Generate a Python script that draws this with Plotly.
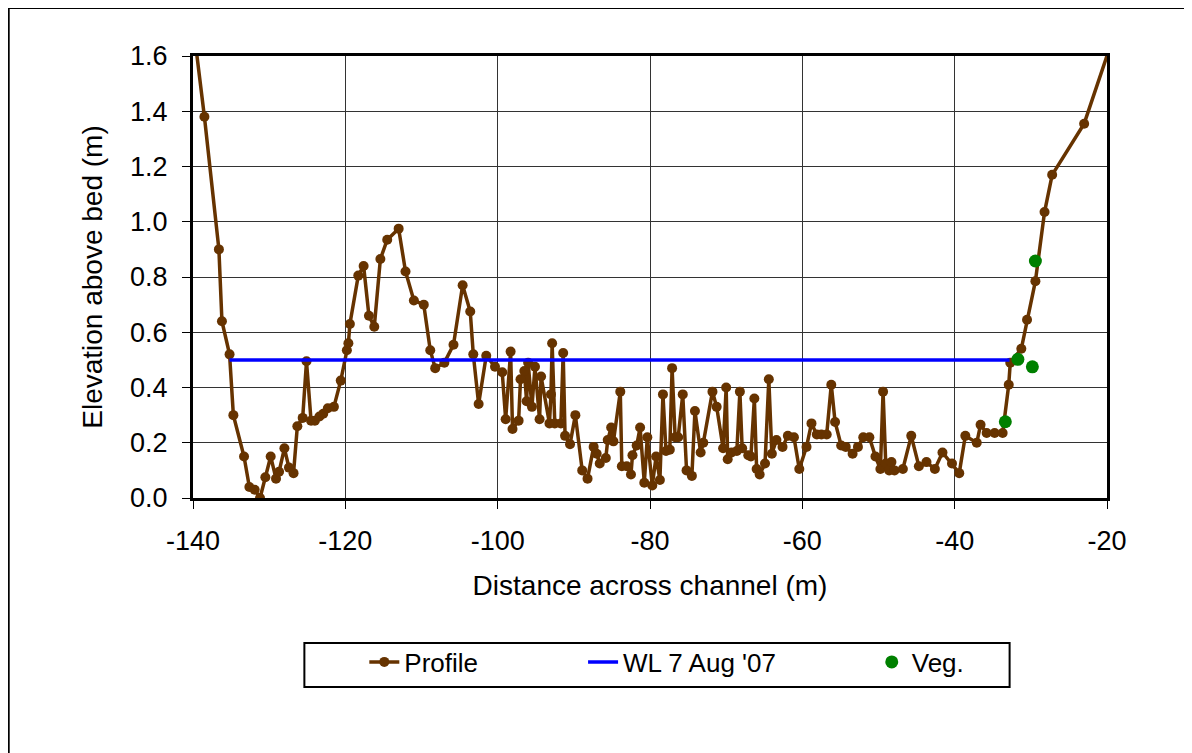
import plotly.graph_objects as go

# Profile survey points (distance across channel, elevation above bed)
profile_x = [-139.7, -138.5, -136.6, -136.2, -135.2, -134.7, -133.3, -132.6, -131.9, -131.2,
             -130.5, -129.8, -129.1, -128.7, -128.0, -127.4, -126.8, -126.3, -125.6, -125.1,
             -124.5, -124.0, -123.4, -122.9, -122.3, -121.5, -120.6, -119.8, -119.6, -119.4,
             -118.3, -117.6, -116.9, -116.2, -115.4, -114.5, -113.0, -112.1, -111.0, -109.7,
             -108.85, -108.2, -107.0, -105.8, -104.6, -103.6, -103.2, -102.5, -101.5, -100.35,
             -99.4, -98.95, -98.3, -98.05, -97.25, -97.0, -96.5, -96.2, -96.0, -95.5,
             -95.1, -94.5, -94.3, -93.2, -93.0, -92.85, -92.5, -91.7, -91.4, -91.15,
             -90.5, -89.8, -88.9, -88.2, -87.4, -87.0, -86.6, -85.8, -85.55, -85.1,
             -84.8, -83.9, -83.7, -83.05, -82.5, -82.3, -81.75, -81.3, -80.75, -80.35,
             -79.7, -79.2, -78.7, -78.3, -77.9, -77.4, -77.1, -76.7, -76.3, -75.7,
             -75.2, -74.5, -74.1, -73.35, -73.0, -71.8, -71.25, -70.4, -70.0, -69.8,
             -69.3, -68.6, -68.2, -67.9, -67.1, -66.75, -66.3, -66.0, -65.6, -64.9,
             -64.4, -64.0, -63.4, -62.6, -61.9, -61.1, -60.4, -59.45, -58.8, -58.1,
             -57.5, -56.8, -56.2, -55.7, -54.9, -54.3, -53.4, -52.7, -52.0, -51.2,
             -50.4, -49.75, -49.4, -49.05, -48.6, -48.3, -47.9, -46.8, -45.7, -44.7,
             -43.7, -42.6, -41.6, -40.35, -39.4, -38.6, -37.1, -36.6, -35.8, -34.75,
             -33.7, -32.9, -32.7, -31.25, -30.5, -29.4, -28.2, -27.2, -23.0, -19.4]
profile_y = [1.65, 1.38, 0.90, 0.64, 0.52, 0.30, 0.15, 0.04, 0.03, 0.00,
             0.075, 0.15, 0.07, 0.095, 0.18, 0.11, 0.09, 0.26, 0.29, 0.495,
             0.28, 0.28, 0.295, 0.305, 0.325, 0.33, 0.425, 0.535, 0.56, 0.63,
             0.805, 0.84, 0.66, 0.62, 0.865, 0.935, 0.975, 0.82, 0.715, 0.70,
             0.535, 0.47, 0.49, 0.555, 0.77, 0.675, 0.52, 0.34, 0.515, 0.475,
             0.455, 0.285, 0.53, 0.25, 0.28, 0.43, 0.46, 0.35, 0.49, 0.33,
             0.475, 0.285, 0.44, 0.27, 0.375, 0.56, 0.27, 0.27, 0.525, 0.225,
             0.195, 0.30, 0.10, 0.07, 0.185, 0.16, 0.125, 0.145, 0.21, 0.255,
             0.205, 0.385, 0.115, 0.115, 0.085, 0.155, 0.19, 0.255, 0.055, 0.22,
             0.045, 0.15, 0.065, 0.375, 0.17, 0.175, 0.47, 0.22, 0.22, 0.375,
             0.10, 0.08, 0.315, 0.165, 0.20, 0.385, 0.33, 0.18, 0.40, 0.14,
             0.165, 0.17, 0.385, 0.18, 0.155, 0.15, 0.36, 0.105, 0.085, 0.125,
             0.43, 0.16, 0.21, 0.185, 0.225, 0.22, 0.105, 0.185, 0.27, 0.23,
             0.23, 0.23, 0.41, 0.275, 0.19, 0.185, 0.16, 0.185, 0.22, 0.22,
             0.15, 0.105, 0.385, 0.125, 0.10, 0.13, 0.10, 0.105, 0.225, 0.115,
             0.13, 0.105, 0.165, 0.125, 0.09, 0.225, 0.20, 0.265, 0.235, 0.235,
             0.235, 0.41, 0.49, 0.54, 0.645, 0.785, 1.035, 1.17, 1.355, 1.65]

# Water level 7 Aug '07
wl_x = [-135.2, -32.8]
wl_y = [0.5, 0.5]

# Vegetation points
veg_x = [-33.35, -31.7, -29.8, -29.4]
veg_y = [0.276, 0.502, 0.475, 0.858]

x_ticks = [-140, -120, -100, -80, -60, -40, -20]
y_ticks = [0.0, 0.2, 0.4, 0.6, 0.8, 1.0, 1.2, 1.4, 1.6]

FONT = "Arial, Liberation Sans, sans-serif"
BROWN = "#663300"

fig = go.Figure()
fig.add_trace(go.Scatter(
    x=profile_x, y=profile_y, mode="lines+markers", name="Profile",
    line=dict(color=BROWN, width=3.5), marker=dict(color=BROWN, size=10),
    legend="legend", showlegend=True))
fig.add_trace(go.Scatter(
    x=wl_x, y=wl_y, mode="lines", name="WL 7 Aug '07",
    line=dict(color="#0000FF", width=3.5), legend="legend2", showlegend=True))
fig.add_trace(go.Scatter(
    x=veg_x, y=veg_y, mode="markers", name="Veg.",
    marker=dict(color="#008000", size=13), legend="legend3", showlegend=True))

# page body has an 8 px margin; figure sized to fit the window
OFF = 8
W, H = 1192 - OFF, 753 - OFF
SL, SR, ST, SB = 192.5, 1107.5, 56, 498          # plot area in screen px
L, T = SL - OFF, ST - OFF
pw, ph = SR - SL, SB - ST
R, B = W - L - pw, H - T - ph


def px2x(p):
    return (p - SL) / pw


def px2y(p):
    return (SB - p) / ph


leg_common = dict(orientation="h", yanchor="middle", xanchor="left",
                  font=dict(family=FONT, size=26, color="black"),
                  bgcolor="rgba(0,0,0,0)", borderwidth=0, y=px2y(662),
                  visible=True)

fig.update_layout(
    width=W, height=H,
    margin=dict(l=L, r=R, t=T, b=B, autoexpand=False),
    paper_bgcolor="white", plot_bgcolor="white",
    showlegend=True,
    font=dict(family=FONT, size=27, color="black"),
    legend=dict(**leg_common, x=px2x(364)),
    legend2=dict(**leg_common, x=px2x(583)),
    legend3=dict(**leg_common, x=px2x(872)),
    xaxis=dict(
        range=[-140, -20], tickmode="array", tickvals=x_ticks,
        ticktext=[str(v) for v in x_ticks],
        showgrid=True, gridcolor="#333333", gridwidth=1,
        showline=True, linecolor="black", linewidth=3, mirror=True,
        ticks="outside", ticklen=8, tickwidth=1, tickcolor="black",
        tickfont=dict(family=FONT, size=27), ticklabelstandoff=9,
        zeroline=False,
        title=dict(text="Distance across channel (m)",
                   font=dict(family=FONT, size=28), standoff=20)),
    yaxis=dict(
        range=[0, 1.6], tickmode="array", tickvals=y_ticks,
        ticktext=[f"{v:.1f}" for v in y_ticks],
        showgrid=True, gridcolor="#333333", gridwidth=1,
        showline=True, linecolor="black", linewidth=3, mirror=True,
        ticks="outside", ticklen=8, tickwidth=1, tickcolor="black",
        tickfont=dict(family=FONT, size=27), ticklabelstandoff=9,
        zeroline=False,
        title=dict(text="Elevation above bed (m)",
                   font=dict(family=FONT, size=28), standoff=20)),
    shapes=[
        dict(type="rect", xref="paper", yref="paper",
             x0=px2x(304), x1=px2x(1010), y0=px2y(687), y1=px2y(643),
             line=dict(color="black", width=2), fillcolor="rgba(0,0,0,0)"),
        dict(type="rect", xref="paper", yref="paper",
             x0=px2x(8), x1=px2x(1230), y0=px2y(790), y1=px2y(8),
             line=dict(color="black", width=2), fillcolor="rgba(0,0,0,0)"),
    ],
)

fig.write_html("out.html")
